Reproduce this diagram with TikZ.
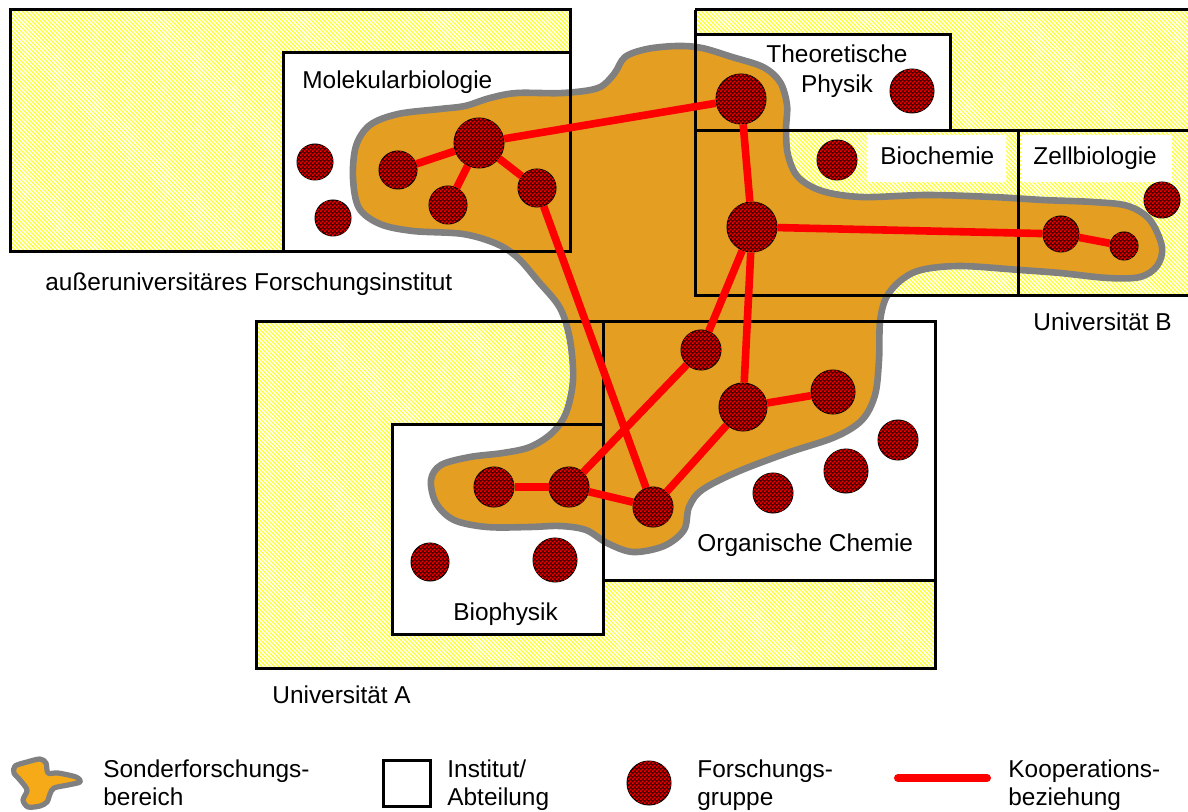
\documentclass[tikz,border=0pt]{standalone}
\usepackage{fontspec}
\setmainfont{Liberation Sans}
\usetikzlibrary{patterns,patterns.meta}

% fine red/black checker used for the research groups
\pgfdeclarepatternformonly{finechecker}{\pgfpointorigin}{\pgfqpoint{2pt}{2pt}}{\pgfqpoint{2pt}{2pt}}{%
  \pgfpathrectangle{\pgfpointorigin}{\pgfqpoint{1pt}{1pt}}%
  \pgfpathrectangle{\pgfqpoint{1pt}{1pt}}{\pgfqpoint{1pt}{1pt}}%
  \pgfusepath{fill}}

\definecolor{sfbfill}{RGB}{228,158,34}
\definecolor{sfbicon}{RGB}{246,170,24}
\definecolor{sfbline}{RGB}{128,128,128}
\definecolor{hatchyellow}{RGB}{255,255,40}
\definecolor{coopred}{RGB}{255,0,0}
\definecolor{grpbase}{RGB}{70,0,0}

\begin{document}
\begin{tikzpicture}[x=0.5pt,y=-0.5pt,
  region/.style={fill=white,postaction={pattern={Lines[angle=-45,distance=1.5pt,line width=0.6pt]},pattern color=hatchyellow}},
  dept/.style={fill=white},
  frame/.style={draw=black,line width=1.5pt},
  sfb/.style={fill=sfbfill,draw=sfbline,line width=3.3pt,line join=round},
  grp/.style={circle,draw=black,line width=0.5pt,fill=grpbase,inner sep=0pt,
              postaction={pattern=finechecker,pattern color=red}},
  coop/.style={draw=coopred,line width=3.8pt},
  lbl/.style={font=\fontsize{12.2}{15}\selectfont,inner sep=0pt},
]
\useasboundingbox (0,0) rectangle (1188,812);

% ---------- institutions (hatched) ----------
\path[region] (10,10) rectangle (570,252);      % außeruniversitäres Forschungsinstitut
\path[region] (695,10) rectangle (1200,296);    % Universität B
\path[region] (256,322) rectangle (935,668);    % Universität A

% ---------- departments (white) ----------
\path[dept] (283,53) rectangle (570,252);       % Molekularbiologie
\path[dept] (695,35) rectangle (950,131);       % Theoretische Physik
\path[dept] (603,322) rectangle (935,580);      % Organische Chemie
\path[dept] (392,424) rectangle (603,634);      % Biophysik
\fill[white] (867,135) rectangle (1006,182);    % label field Biochemie
\fill[white] (1021,135) rectangle (1172,182);   % label field Zellbiologie

% ---------- Sonderforschungsbereich ----------
\draw[sfb] plot[smooth cycle,tension=0.55] coordinates {
  (353,178) (356,146) (370,125) (398,114) (440,109) (465,106) (490,98) (517,93)
  (563,93) (598,88) (614,74) (625,57) (647,49) (677,46) (702,48) (732,57)
  (763,67) (780,82) (787,105) (786,130) (788,155) (798,177) (822,191) (862,197)
  (927,195) (993,197) (1043,200) (1093,202) (1128,206) (1150,220) (1162,247)
  (1157,266) (1140,277) (1108,278) (1060,273) (1020,270) (960,266) (921,270)
  (900,281) (886,298) (880,322) (879,360) (875,395) (862,420) (835,437) (787,453)
  (737,472) (702,490) (689,507) (684,530) (664,546) (633,552) (607,543) (586,530)
  (560,526) (530,527) (487,527) (454,520) (436,503) (431,480) (441,465) (470,457)
  (503,453) (530,447) (552,433) (566,413) (573,380) (570,340) (560,308) (538,281)
  (518,258) (497,244) (463,234) (413,231) (380,224) (359,208)};

% ---------- frames ----------
\draw[frame] (10,10) rectangle (570,252);
\draw[frame] (283,53) rectangle (570,252);
\draw[frame] (695,10) -- (1200,10);
\draw[frame] (1200,296) -- (695,296) -- (695,10);
\draw[frame] (695,35) rectangle (950,131);
\draw[frame] (950,131) -- (1200,131);
\draw[frame] (1018,131) -- (1018,296);
\draw[frame] (256,322) rectangle (935,668);
\draw[frame] (603,322) rectangle (935,580);
\draw[frame] (392,424) rectangle (603,634);

% ---------- research groups ----------
% Molekularbiologie
\node[grp,minimum size=18pt] (mA) at (315,162) {};
\node[grp,minimum size=18pt] (mB) at (333,218) {};
\node[grp,minimum size=19pt] (m1) at (398,170) {};
\node[grp,minimum size=25pt] (m2) at (479,143) {};
\node[grp,minimum size=19pt] (m3) at (448,205) {};
\node[grp,minimum size=19pt] (m4) at (537,188) {};
% Theoretische Physik
\node[grp,minimum size=25pt] (t1) at (741,99) {};
\node[grp,minimum size=22pt] (tA) at (912,91) {};
% Biochemie
\node[grp,minimum size=25pt] (b1) at (752,227) {};
\node[grp,minimum size=20pt] (bA) at (837,160) {};
% Zellbiologie
\node[grp,minimum size=18pt] (z1) at (1061,234) {};
\node[grp,minimum size=14pt] (z2) at (1124,246) {};
\node[grp,minimum size=18pt] (zA) at (1162,200) {};
% Organische Chemie
\node[grp,minimum size=20pt] (o1) at (701,350) {};
\node[grp,minimum size=24pt] (o2) at (743,407) {};
\node[grp,minimum size=22pt] (o3) at (833,392) {};
\node[grp,minimum size=20pt] (o4) at (653,507) {};
\node[grp,minimum size=20pt] (oA) at (773,493) {};
\node[grp,minimum size=22pt] (oB) at (846,471) {};
\node[grp,minimum size=20pt] (oC) at (898,440) {};
% Biophysik
\node[grp,minimum size=20pt] (p1) at (494,487) {};
\node[grp,minimum size=20pt] (p2) at (569,487) {};
\node[grp,minimum size=19pt] (pA) at (430,562) {};
\node[grp,minimum size=22pt] (pB) at (555,560) {};

% ---------- cooperations ----------
\draw[coop] (m1) -- (m2);
\draw[coop] (m2) -- (m3);
\draw[coop] (m2) -- (m4);
\draw[coop] (m2) -- (t1);
\draw[coop] (m4) -- (o4);
\draw[coop] (t1) -- (b1);
\draw[coop] (b1) -- (z1);
\draw[coop] (z1) -- (z2);
\draw[coop] (b1) -- (o1);
\draw[coop] (b1) -- (o2);
\draw[coop] (o1) -- (p2);
\draw[coop] (o2) -- (o3);
\draw[coop] (o2) -- (o4);
\draw[coop] (p1) -- (p2);
\draw[coop] (p2) -- (o4);

% ---------- labels ----------
\node[lbl,anchor=base west] (lMol) at (302,89) {Molekularbiologie};
\node[lbl,anchor=base west] (lInst) at (45,291) {außeruniversitäres Forschungsinstitut};
\node[lbl,anchor=base] (lTP1) at (837,63) {Theoretische};
\node[lbl,anchor=base] (lTP2) at (837,93) {Physik};
\node[lbl,anchor=base west] (lBC) at (880,165) {Biochemie};
\node[lbl,anchor=base west] (lZB) at (1033,165) {Zellbiologie};
\node[lbl,anchor=base west] (lUB) at (1033,331) {Universität B};
\node[lbl,anchor=base west] (lOC) at (697,551) {Organische Chemie};
\node[lbl,anchor=base west] (lBP) at (453,620) {Biophysik};
\node[lbl,anchor=base west] (lUA) at (272,703) {Universität A};

% ---------- legend ----------
\draw[fill=sfbicon,draw=sfbline,line width=2.6pt,line join=round]
  plot[smooth cycle,tension=0.5] coordinates {
  (15,766) (27,762) (40,759) (46,763) (48,773) (58,773) (76,777) (80,782)
  (68,785) (54,788) (50,794) (47,802) (40,806) (28,807) (23,800) (27,790)
  (20,780) (14,773)};
\node[lbl,anchor=base west] (leg1a) at (103,777) {Sonderforschungs-};
\node[lbl,anchor=base west] (leg1b) at (103,805) {bereich};

\node[draw=black,line width=1.5pt,minimum width=23.5pt,minimum height=23pt,inner sep=0pt] (legBox) at (407,783) {};
\node[lbl,anchor=base west] (leg2a) at (447,777) {Institut/};
\node[lbl,anchor=base west] (leg2b) at (447,805) {Abteilung};

\node[grp,minimum size=22pt] (legGrp) at (649,783) {};
\node[lbl,anchor=base west] (leg3a) at (697,777) {Forschungs-};
\node[lbl,anchor=base west] (leg3b) at (697,805) {gruppe};

\coordinate (legL) at (898,778);
\coordinate (legR) at (987,778);
\draw[coop,line width=4pt,line cap=round] (legL) -- (legR);
\node[lbl,anchor=base west] (leg4a) at (1008,777) {Kooperations-};
\node[lbl,anchor=base west] (leg4b) at (1008,805) {beziehung};
\end{tikzpicture}
\end{document}
